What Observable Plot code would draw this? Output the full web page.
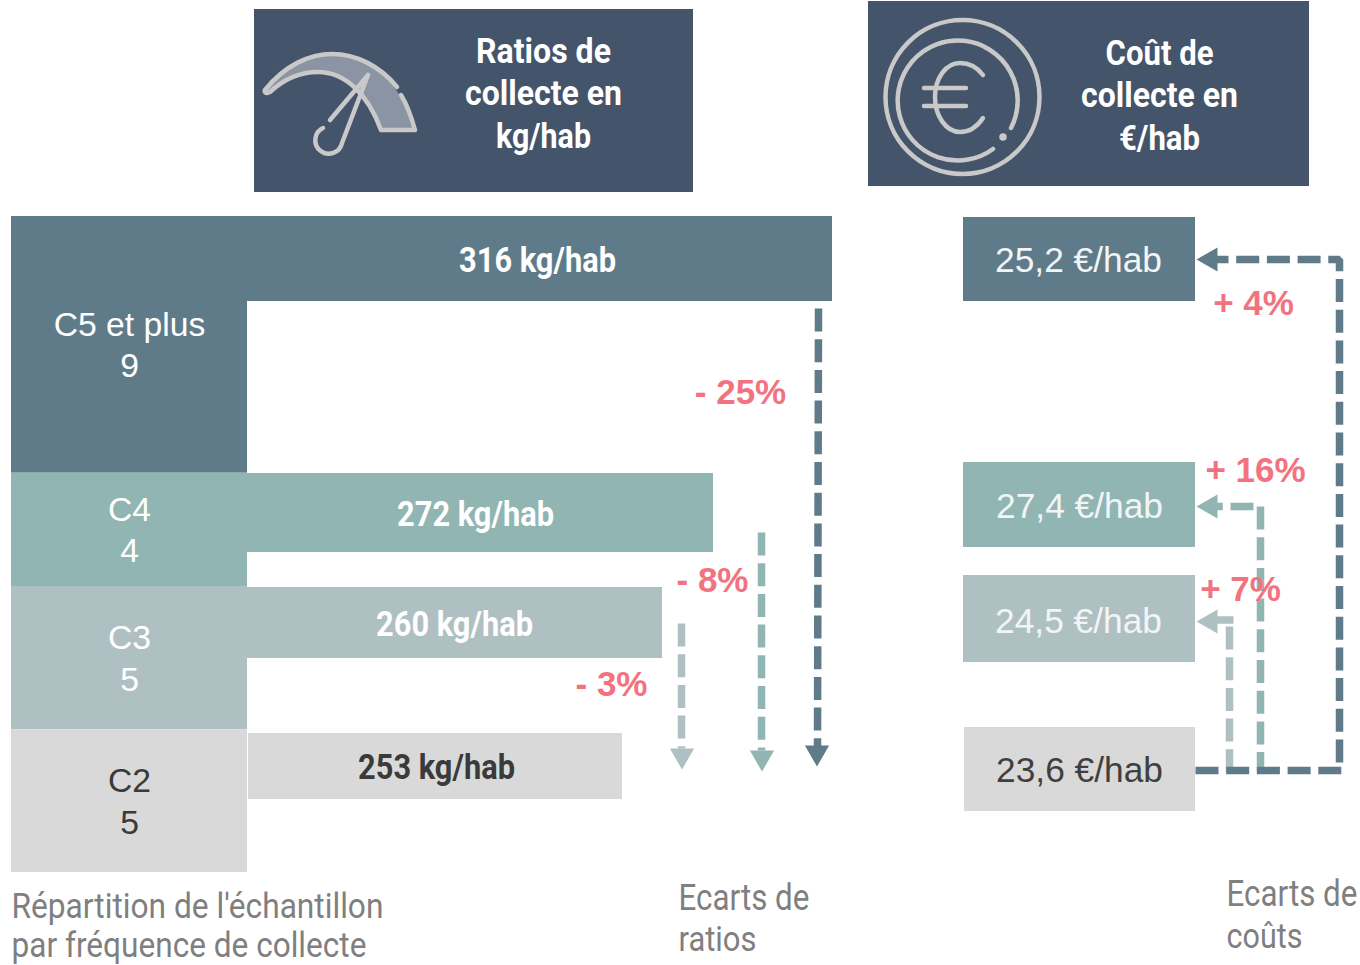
<!DOCTYPE html>
<html lang="fr">
<head>
<meta charset="utf-8">
<script src="https://cdn.jsdelivr.net/npm/d3@7"></script>
<script src="https://cdn.jsdelivr.net/npm/@observablehq/plot@0.6"></script>
<style>html,body{margin:0;padding:0;background:#fff}svg{display:block}</style>
</head>
<body>
<div id="chart"></div>
<script>
// ---------- chart values ----------
const categories = ["C5 et plus", "C4", "C3", "C2"];
const sampleCounts = [9, 4, 5, 5];
const ratiosKg = [316, 272, 260, 253];
const costsEur = ["25,2", "27,4", "24,5", "23,6"];
const ratioGaps = ["- 25%", "- 8%", "- 3%"];
const costGaps = ["+ 4%", "+ 16%", "+ 7%"];
const headers = [["Ratios de", "collecte en", "kg/hab"], ["Coût de", "collecte en", "€/hab"]];
const captions = [["Répartition de l'échantillon", "par fréquence de collecte"], ["Ecarts de", "ratios"], ["Ecarts de", "coûts"]];

// ---------- layout ----------
const colours = ["#5f7b89", "#91b5b3", "#afc0c3", "#d9d9d9"];
const labelColours = ["#ffffff", "#ffffff", "#ffffff", "#3a3a3a"];
const costLabelColours = ["#f2f5f6", "#f2f5f6", "#f2f5f6", "#3f3f3f"];
const navy = "#44546a", pink = "#f2737f", captionGrey = "#7f7f7f", iconGrey = "#c9c9c9";
const sans = "'Liberation Sans', Arial, sans-serif";
const condensed = "Roboto, sans-serif";

// sample counts set the height of the left column; the ratio axis is truncated
const sampleY = d3.scaleLinear([0, d3.sum(sampleCounts)], [216, 872]);
const ratioX = d3.scaleLinear([253, 260, 272, 316], [622, 662, 713, 832]);
const cumul = d3.cumsum(sampleCounts);

const blockTable = categories.map((c, i) => ({
  cat: c, n: sampleCounts[i], colour: colours[i],
  y1: sampleY(i ? cumul[i - 1] : 0), y2: sampleY(cumul[i])
}));
const blockLabelY = [[325, 366], [510, 551], [638, 680], [781, 823]];
const blockLabels = categories.flatMap((c, i) => [
  {t: c, y: blockLabelY[i][0], colour: labelColours[i]},
  {t: String(sampleCounts[i]), y: blockLabelY[i][1], colour: labelColours[i]}
]);

const ratioRows = [[216, 301, 537, 260.5, 247], [473, 552, 475, 514.5, 247], [587, 658, 454, 624.5, 247], [733, 799, 436, 767.5, 248]];
const ratioTable = ratiosKg.map((v, i) => ({
  v, colour: colours[i], y1: ratioRows[i][0], y2: ratioRows[i][1],
  x0: ratioRows[i][4], lx: ratioRows[i][2], ly: ratioRows[i][3], lc: labelColours[i]
}));

const costRows = [[963, 217, 301, 1078, 260], [963, 462, 547, 1079, 506], [963, 575, 662, 1078, 621], [964, 727, 811, 1079, 770]];
const costTable = costsEur.map((v, i) => ({
  label: v + " €/hab", colour: colours[i], x1: costRows[i][0], x2: 1195,
  y1: costRows[i][1], y2: costRows[i][2], lx: costRows[i][3], ly: costRows[i][4], lc: costLabelColours[i]
}));

const headerBoxes = [{x1: 254, x2: 693, y1: 9, y2: 192, cx: 543, ys: [51.5, 93.5, 136.5]}, {x1: 868, x2: 1309, y1: 1, y2: 186, cx: 1159, ys: [53.5, 95.5, 138.5]}];
const headerWidths = [[135, 157, 95], [108, 157, 81]];
const headerLines = headerBoxes.flatMap((b, i) => headers[i].map((t, j) => ({t, x: b.cx, y: b.ys[j], w: headerWidths[i][j]})));

const captionPos = [[11, [906, 944.5]], [678, [898, 939]], [1226, [894, 936]]];
const captionWidths = [[372, 355], [131, 78], [131, 76]];
const captionLines = captions.flatMap((ls, i) => ls.map((t, j) => ({t, x: captionPos[i][0], y: captionPos[i][1][j], w: captionWidths[i][j]})));

const gapLabels = [
  ...ratioGaps.map((t, i) => ({t, x: [740, 712, 611][i], y: [392, 580, 684][i]})),
  ...costGaps.map((t, i) => ({t, x: [1253, 1255, 1240][i], y: [303, 470, 589][i]}))
];

// dashed connectors, painted light first so the dark one stays on top
const connectors = [
  {x1: 681, y1: 623, x2: 681, y2: 748, c: colours[2]},
  {x1: 761, y1: 532, x2: 761, y2: 750, c: colours[1]},
  {x1: 818, y1: 308, x2: 817, y2: 746, c: colours[0]},
  {x1: 1229, y1: 626, x2: 1229, y2: 772, c: colours[2]},
  {x1: 1233, y1: 619.5, x2: 1216, y2: 619.5, c: colours[2]},
  {x1: 1260, y1: 506, x2: 1260, y2: 772, c: colours[1]},
  {x1: 1253, y1: 506, x2: 1216, y2: 506, c: colours[1]},
  {x1: 1195, y1: 770, x2: 1343, y2: 770, c: colours[0]}
];
const topReturn = [{x: 1205, y: 259}, {x: 1339, y: 259}, {x: 1339, y: 762}];
const arrowHeads = [
  {x: 681.5, y: 755, rot: 180, c: colours[2]},
  {x: 761.5, y: 757, rot: 180, c: colours[1]},
  {x: 816.5, y: 752, rot: 180, c: colours[0]},
  {x: 1210, y: 259, rot: -90, c: colours[0]},
  {x: 1210, y: 506, rot: -90, c: colours[1]},
  {x: 1210, y: 621, rot: -90, c: colours[2]}
];

// header pictograms
function icons() {
  const g = d3.create("svg:g").attr("fill", "none").attr("stroke", iconGrey).attr("stroke-width", 4.5)
    .attr("stroke-linecap", "round").attr("stroke-linejoin", "round");
  // gauge
  g.append("path").attr("fill", "#8a94a2").attr("stroke", "none")
    .attr("d", "M265,90 C285,65 312,54 332,54 C365,54 400,78 415,130 L381,130 C372,100 350,72 318,72 C300,72 282,80 268,93 Z");
  g.append("path").attr("d", "M381,130 L415,130 C410,112 406,103 401,95 M397,87 C380,66 356,54 332,54 C310,54 285,65 265,90 C264,93 267,94 270,92 C284,79 300,72 318,72 C345,72 368,94 381,130");
  g.append("path").attr("d", "M330,120 L368,75 L342,143 A13.5,13.5 0 1 1 323,128");
  // euro
  g.append("circle").attr("cx", 962.5).attr("cy", 97).attr("r", 77);
  g.append("path").attr("d", "M1011,128 A60,60 0 1 0 993,149");
  g.append("circle").attr("cx", 1003).attr("cy", 137).attr("r", 1.5).attr("fill", iconGrey);
  g.append("path").attr("d", "M983,75 C977,67 969,63 960,63 C946,63 935,78 935,97 C935,116 946,132 960,132 C969,132 977,127 983,118");
  g.append("path").attr("d", "M924,88 L966,88 M924,106 L966,106");
  return g.node();
}

// tag the condensed labels with the width they take in the reference
function tagWidths(lines) {
  return (index, scales, values, dimensions, context, next) => {
    const g = next(index, scales, values, dimensions, context);
    d3.select(g).selectAll("text").each(function (_, k) {
      this.setAttribute("data-w", lines[index[k]].w);
    });
    return g;
  };
}
const valueLines = ratioTable.map(() => ({w: 157}));

const plot = Plot.plot({
  width: 1360, height: 965, margin: 0,
  x: {domain: [0, 1360], range: [0, 1360], axis: null},
  y: {domain: [0, 965], range: [0, 965], axis: null},
  color: {type: "identity"},
  style: {background: "#fff"},
  marks: [
    Plot.rect(headerBoxes, {x1: "x1", x2: "x2", y1: "y1", y2: "y2", fill: navy}),
    icons,
    Plot.text(headerLines, {x: "x", y: "y", text: "t", fill: "#fff", fontFamily: condensed, fontWeight: "bold", fontSize: 35, render: tagWidths(headerLines)}),
    // ratio bars, measured from the edge of the sample column
    Plot.rect(ratioTable, {x1: "x0", x2: d => ratioX(d.v), y1: "y1", y2: "y2", fill: "colour"}),
    // sample column
    Plot.rect(blockTable, {x1: 11, x2: 247, y1: "y1", y2: "y2", fill: "colour"}),
    Plot.text(blockLabels, {x: 129, y: "y", text: "t", fill: "colour", fontFamily: sans, fontSize: 33.7}),
    Plot.text(ratioTable, {x: "lx", y: "ly", text: d => d.v + " kg/hab", fill: "lc", fontFamily: condensed, fontWeight: "bold", fontSize: 35, render: tagWidths(valueLines)}),
    // cost bars
    Plot.rect(costTable, {x1: "x1", x2: "x2", y1: "y1", y2: "y2", fill: "colour"}),
    Plot.text(costTable, {x: "lx", y: "ly", text: "label", fill: "lc", fontFamily: sans, fontSize: 35.3}),
    // connectors
    Plot.line(topReturn, {x: "x", y: "y", stroke: colours[0], strokeWidth: 7.5, strokeDasharray: "23,7.7", strokeLinecap: "butt", strokeLinejoin: "miter"}),
    Plot.link(connectors, {x1: "x1", y1: "y1", x2: "x2", y2: "y2", stroke: "c", strokeWidth: 7.5, strokeDasharray: "23,7.7", strokeLinecap: "butt"}),
    Plot.dot(arrowHeads, {x: "x", y: "y", r: 9, symbol: "triangle", rotate: "rot", fill: "c", stroke: "none"}),
    // gap labels and captions
    Plot.text(gapLabels, {x: "x", y: "y", text: "t", fill: pink, fontFamily: sans, fontWeight: "bold", fontSize: 35}),
    Plot.text(captionLines, {x: "x", y: "y", text: "t", textAnchor: "start", fill: captionGrey, fontFamily: condensed, fontSize: 36, render: tagWidths(captionLines)})
  ]
});
document.getElementById("chart").append(plot);

// squeeze the tagged labels horizontally now that they can be measured
plot.querySelectorAll("text[data-w]").forEach(t => {
  const ratio = +t.getAttribute("data-w") / t.getComputedTextLength();
  t.setAttribute("transform", (t.getAttribute("transform") || "") + ` scale(${ratio},1)`);
});
</script>
</body>
</html>
